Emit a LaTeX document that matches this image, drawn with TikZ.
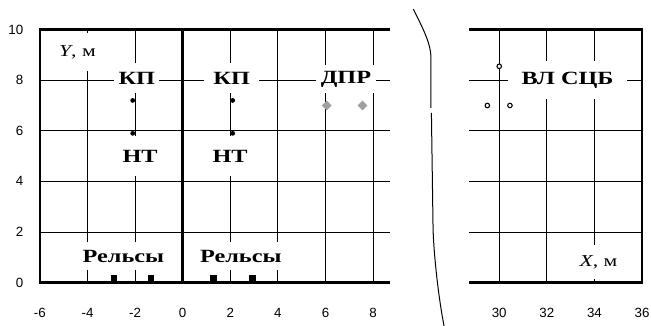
\documentclass[tikz,border=0pt]{standalone}
\usepackage{fontspec}
\newfontfamily\lblfont[FakeStretch=1.3]{Liberation Serif}
\newfontfamily\tickfont{Liberation Sans}
\usetikzlibrary{shapes.geometric}

\begin{document}
\begin{tikzpicture}
    [x=17.85pt,y=18.975pt,
     grid/.style={line width=0.75pt},
     frame/.style={line width=2pt},
     lbl/.style={fill=white,inner sep=0pt,font=\lblfont\fontsize{14}{16}\selectfont\bfseries},
     axlbl/.style={fill=white,inner sep=0pt,font=\lblfont\fontsize{12.5}{15}\selectfont},
     tick/.style={font=\tickfont\fontsize{10}{12}\selectfont}]

    \pgfmathsetmacro{\rightShift}{-16.7}
    \pgfmathsetmacro{\trackX}{2.1}

    \useasboundingbox (-7.676,-1.711) rectangle (19.676,11.17);

    % left part of the plot
    \foreach \y in {2,4,6,8} \draw[grid] (-6,\y) -- (8.7,\y);
    \foreach \x in {-4,-2,2,4,6,8} \draw[grid] (\x,0) -- (\x,10);
    \draw[frame] (8.7,10) -- (-6,10) -- (-6,0) -- (8.7,0);
    \draw[frame] (0,0) -- (0,10);
    \foreach \y in {0,2,...,10} \node[tick,anchor=east] (ytick\y) at (-6.5,\y) {\y};
    \foreach \x in {-6,-4,...,8} \node[tick] (xtick\x) at (\x,-1.2) {\x};

    \node[axlbl,minimum width=41pt,minimum height=28.5pt] (ylab) at (-4.42,9.11) {\textit{Y}, м};
    \node[lbl,minimum width=34pt,minimum height=22.5pt] (kp1) at (-1.93,8.09) {КП};
    \node[lbl,minimum width=41pt,minimum height=22.5pt] (kp2) at (2.06,8.09) {КП};
    \node[lbl,minimum width=30pt,minimum height=30pt] (nt1) at (-1.79,5.0) {НТ};
    \node[lbl,minimum width=30pt,minimum height=30pt] (nt2) at (1.99,5.0) {НТ};
    \node[lbl,minimum width=66pt,minimum height=21pt] (rails1) at (-2.49,1.05) {Рельсы};
    \node[lbl,minimum width=66pt,minimum height=21pt] (rails2) at (2.44,1.05) {Рельсы};
    \node[lbl,minimum width=45pt,minimum height=21pt] (dprlab) at (6.86,8.05) {ДПР};

    % contact wire and track circuit points
    \foreach \s in {-1,1} {
        \fill (\s*\trackX,7.2) circle (1.8pt);
        \fill (\s*\trackX,5.9) circle (1.8pt);
    }
    \foreach \x in {-2.89,-1.33,1.30,2.92} \fill (\x-0.14,0) rectangle (\x+0.14,0.3);
    \node[diamond,fill=gray!75,minimum size=7.5pt,inner sep=0pt] (dpr1) at (6.05,7) {};
    \node[diamond,fill=gray!75,minimum size=7.5pt,inner sep=0pt] (dpr2) at (7.55,7) {};

    % break
    \draw[line width=0.75pt] (9.69,10.81) .. controls (10.15,9.95) and (10.43,9.4) .. (10.43,8.9) -- (10.43,6.91);
    \draw[line width=0.75pt] (10.45,6.71) -- (10.52,2.08) .. controls (10.56,1.0) and (10.75,-0.6) .. (10.98,-1.71);

    % right part of the plot
    \begin{scope}[shift={(\rightShift,0)}]
        \foreach \y in {2,4,6,8} \draw[grid] (28.75,\y) -- (36,\y);
        \foreach \x in {30,32,34} \draw[grid] (\x,0) -- (\x,10);
        \draw[frame] (28.75,10) -- (36,10) -- (36,0) -- (28.75,0);
        \foreach \x in {30,32,...,36} \node[tick] (xtick\x) at (\x,-1.2) {\x};

        \node[lbl,minimum width=89pt,minimum height=28.5pt] (vllab) at (32.87,8.01) {ВЛ СЦБ};
        \node[axlbl,minimum width=41pt,minimum height=26pt] (xlab) at (34.17,0.82) {\textit{X}, м};

        \foreach \p in {(29.5,7),(30.45,7),(30,8.55)}
            \draw[fill=white,line width=0.8pt] \p circle (1.7pt);
    \end{scope}
\end{tikzpicture}
\end{document}
